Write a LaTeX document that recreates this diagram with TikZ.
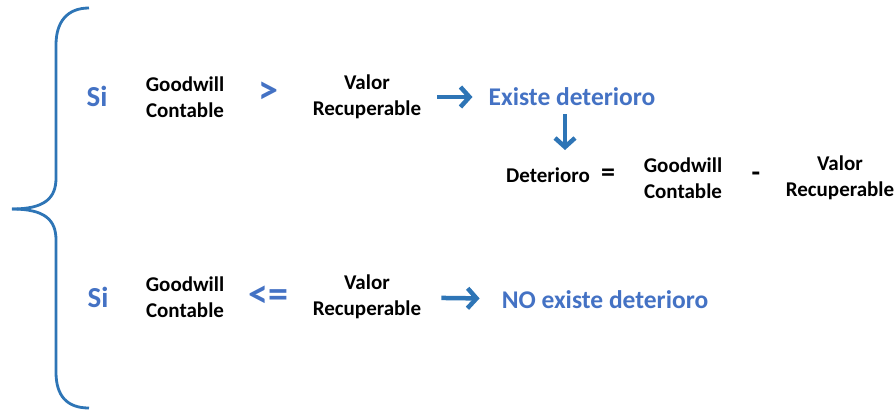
\documentclass[tikz,border=0pt]{standalone}
\usepackage{fontspec}
\setmainfont{Carlito}
\usetikzlibrary{arrows.meta}

\definecolor{bracecol}{HTML}{2E75B6}
\definecolor{textblue}{HTML}{4472C4}

\tikzset{
  txt/.style={font=\fontsize{21}{26}\selectfont\bfseries, align=center, inner sep=0pt},
  si/.style={font=\fontsize{29}{30}\selectfont\bfseries, text=textblue, inner sep=0pt},
  rel/.style={font=\fontsize{40}{40}\selectfont\bfseries, text=textblue, inner sep=0pt},
  op/.style={font=\fontsize{28}{28}\selectfont\bfseries, inner sep=0pt},
  result/.style={font=\fontsize{25.5}{30}\selectfont\bfseries, text=textblue, inner sep=0pt},
  bigarrow/.style={-{Straight Barb[length=9pt,width=20pt]}, line width=4.5pt, draw=bracecol}
}

\begin{document}
\begin{tikzpicture}[x=1pt,y=-1pt]
  \useasboundingbox (0,0) rectangle (896,410);
  % brace
  \draw[bracecol, line width=2.8pt]
    (89,8) .. controls (67,8) and (56,22) .. (56,45) -- (56,178)
    .. controls (56,198) and (45,209) .. (12,209);
  \draw[bracecol, line width=2.8pt]
    (89,408) .. controls (67,408) and (56,396) .. (56,372) -- (56,240)
    .. controls (56,220) and (45,209) .. (12,209);
  % first case
  \node[si] (si1) at (97,96) {Si};
  \node[txt] (gw1) at (185,97) {Goodwill\\Contable};
  \node[rel] (gt) at (268,93) {>};
  \node[txt] (val1) at (367,97) {Valor\\Recuperable};
  \node[result] (ex) at (572,97) {Existe deterioro};
  \draw[bigarrow, shorten <=16pt, shorten >=16pt] (val1) -- (ex);
  % formula
  \node[txt] (det) at (548,175) {Deterioro};
  \node[op] (eq) at (608,175) {=};
  \node[txt] (gw3) at (683,178) {Goodwill\\Contable};
  \node[op] (minus) at (756,177) {-};
  \node[txt] (val3) at (840,178) {Valor\\Recuperable};
  \coordinate (dn1) at (565,114);
  \coordinate (dn2) at (565,150);
  \draw[bigarrow] (dn1) -- (dn2);
  % second case
  \node[si] (si2) at (98,297) {Si};
  \node[txt] (gw2) at (185,297) {Goodwill\\Contable};
  \node[rel] (le) at (268,297) {<=};
  \node[txt] (val2) at (367,297) {Valor\\Recuperable};
  \node[result] (noex) at (605,300) {NO existe deterioro};
  \draw[bigarrow, shorten <=20pt, shorten >=22pt] (val2) -- (noex);
\end{tikzpicture}
\end{document}
